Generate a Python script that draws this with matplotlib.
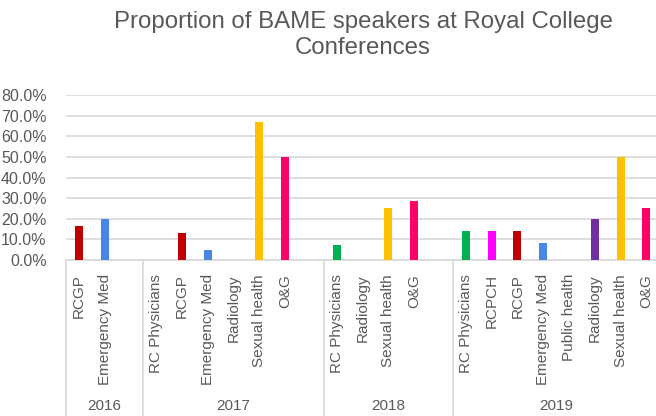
import matplotlib
matplotlib.use('Agg')
import matplotlib.pyplot as plt
import matplotlib.transforms as mtransforms
from matplotlib.ticker import PercentFormatter

plt.rcParams['font.family'] = ['Liberation Sans', 'DejaVu Sans']

# Data: one blank slot closes each year group, as in the original chart
years = ['2016', '2017', '2018', '2019']
labels_2016 = ['RCGP', 'Emergency Med', '']
values_2016 = [0.167, 0.20, 0.0]
labels_2017 = ['RC Physicians', 'RCGP', 'Emergency Med', 'Radiology',
               'Sexual health', 'O&G', '']
values_2017 = [0.0, 0.133, 0.048, 0.0, 0.667, 0.50, 0.0]
labels_2018 = ['RC Physicians', 'Radiology', 'Sexual health', 'O&G', '']
values_2018 = [0.071, 0.0, 0.25, 0.286, 0.0]
labels_2019 = ['RC Physicians', 'RCPCH', 'RCGP', 'Emergency Med',
               'Public health', 'Radiology', 'Sexual health', 'O&G']
values_2019 = [0.143, 0.143, 0.143, 0.083, 0.0, 0.20, 0.50, 0.25]

groups = [(labels_2016, values_2016), (labels_2017, values_2017),
          (labels_2018, values_2018), (labels_2019, values_2019)]

colours = {'RCGP': '#C00000', 'Emergency Med': '#4A86E8',
           'RC Physicians': '#00B050', 'Radiology': '#7030A0',
           'Sexual health': '#FFC000', 'O&G': '#FF0066',
           'RCPCH': '#FF00FF', 'Public health': '#A5A5A5', '': 'white'}

txt = '#595959'
grid = '#D9D9D9'

fig = plt.figure(figsize=(6.56, 4.16), dpi=100)
ax = fig.add_axes([66 / 656, 156 / 416, 590 / 656, 165 / 416])

all_labels = []
all_values = []
bounds = [-0.5]
centres = []
for lab, val in groups:
    start = len(all_labels)
    all_labels += lab
    all_values += val
    bounds.append(len(all_labels) - 0.5)
    centres.append((start + len(all_labels) - 1) / 2)

pos = list(range(len(all_labels)))
ax.bar(pos, all_values, width=0.31, color=[colours[l] for l in all_labels],
       zorder=3)

ax.set_ylim(0, 0.8)
ax.set_yticks([i / 10 for i in range(9)])
ax.yaxis.set_major_formatter(PercentFormatter(1.0, decimals=1))
ax.set_xlim(-0.5, 22.37)
ax.set_xticks(pos)
ax.set_xticklabels(all_labels, rotation=90, va='top', ha='center')
ax.tick_params(axis='both', length=0, colors=txt)
ax.tick_params(axis='x', pad=10, labelsize=11)
ax.tick_params(axis='y', pad=14, labelsize=11.5)
ax.grid(axis='y', color=grid, linewidth=1.2, zorder=0)
for s in ['top', 'right', 'left']:
    ax.spines[s].set_visible(False)
ax.spines['bottom'].set_color(grid)
ax.spines['bottom'].set_linewidth(1.2)

# year separators and year labels below the category labels
trans = mtransforms.blended_transform_factory(ax.transData, fig.transFigure)
for b in bounds:
    ax.plot([b, b], [0, 156 / 416], transform=trans, color=grid,
            linewidth=1.2, clip_on=False)
for c, y in zip(centres, years):
    ax.text(c, 10 / 416, y, transform=trans, ha='center', va='center',
            fontsize=11, color=txt)

fig.text(363 / 656, 1 - 22 / 416, 'Proportion of BAME speakers at Royal College',
         ha='center', va='center', fontsize=17.3, color=txt)
fig.text(363 / 656, 1 - 48 / 416, 'Conferences',
         ha='center', va='center', fontsize=17.3, color=txt)

fig.savefig('out.png', dpi=100)
